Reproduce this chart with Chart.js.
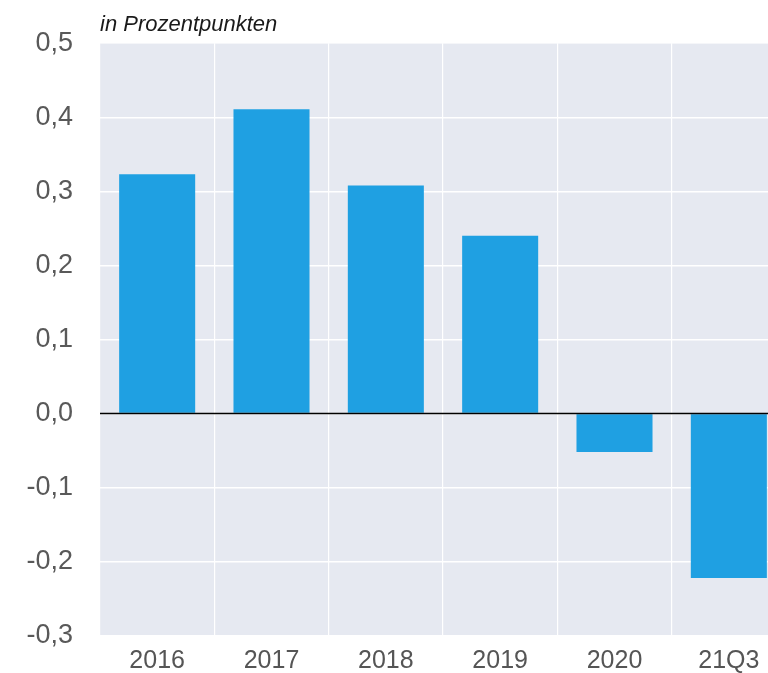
<!DOCTYPE html>
<html>
<head>
<meta charset="utf-8">
<script src="https://cdn.jsdelivr.net/npm/chart.js@4/dist/chart.umd.min.js"></script>
<style>
  html, body { margin: 0; padding: 0; background: #ffffff; overflow: hidden; }
  #wrap { position: relative; width: 786px; height: 679px; }
</style>
</head>
<body>
<div id="wrap"><canvas id="c"></canvas></div>
<script>
const categories = ['2016', '2017', '2018', '2019', '2020', '21Q3'];
const values = [0.323, 0.411, 0.308, 0.240, -0.052, -0.222];
const yTicks = [-0.3, -0.2, -0.1, 0.0, 0.1, 0.2, 0.3, 0.4, 0.5];
const unitLabel = 'in Prozentpunkten';

const FONT = "'Liberation Sans', Arial, sans-serif";

const bgPlugin = {
  id: 'bgPlugin',
  beforeDraw(chart) {
    const { ctx, chartArea: a } = chart;
    ctx.save();
    ctx.fillStyle = '#e6e9f1';
    ctx.fillRect(a.left, a.top, a.right - a.left, a.bottom - a.top);
    ctx.restore();
  },
  afterDatasetsDraw(chart) {
    const { ctx, chartArea: a, scales } = chart;
    const y0 = scales.y.getPixelForValue(0);
    ctx.save();
    ctx.strokeStyle = '#000000';
    ctx.lineWidth = 1.5;
    ctx.beginPath();
    ctx.moveTo(a.left, y0);
    ctx.lineTo(a.right, y0);
    ctx.stroke();
    ctx.fillStyle = '#1a1a1a';
    ctx.font = "italic 22px " + FONT;
    ctx.textBaseline = 'alphabetic';
    ctx.textAlign = 'left';
    ctx.fillText(unitLabel, a.left, 31);
    ctx.restore();
  }
};

new Chart(document.getElementById('c'), {
  type: 'bar',
  data: {
    labels: categories,
    datasets: [{
      data: values,
      backgroundColor: '#1fa0e2',
      borderWidth: 0,
      barPercentage: 0.665,
      categoryPercentage: 1.0
    }]
  },
  options: {
    responsive: true,
    maintainAspectRatio: false,
    animation: false,
    layout: { padding: { top: 42, right: 0, left: 0, bottom: 0 } },
    plugins: {
      legend: { display: false },
      tooltip: { enabled: false }
    },
    scales: {
      x: {
        grid: { display: true, offset: true, color: '#ffffff', lineWidth: 1.2, drawTicks: false },
        border: { display: false },
        ticks: {
          color: '#555555',
          font: { family: FONT, size: 25 },
          padding: 10
        },
        afterFit(scale) { scale.height = 38; }
      },
      y: {
        min: -0.3,
        max: 0.5,
        afterBuildTicks(scale) { scale.ticks = yTicks.map(v => ({ value: v })); },
        grid: { color: '#ffffff', lineWidth: 1.5, drawTicks: false },
        border: { display: false },
        ticks: {
          color: '#595959',
          font: { family: FONT, size: 27 },
          padding: 27,
          callback(v) { return (Math.round(v * 10) / 10).toFixed(1).replace('.', ','); }
        },
        afterFit(scale) { scale.width = 100; }
      }
    }
  },
  plugins: [bgPlugin]
});
</script>
</body>
</html>
